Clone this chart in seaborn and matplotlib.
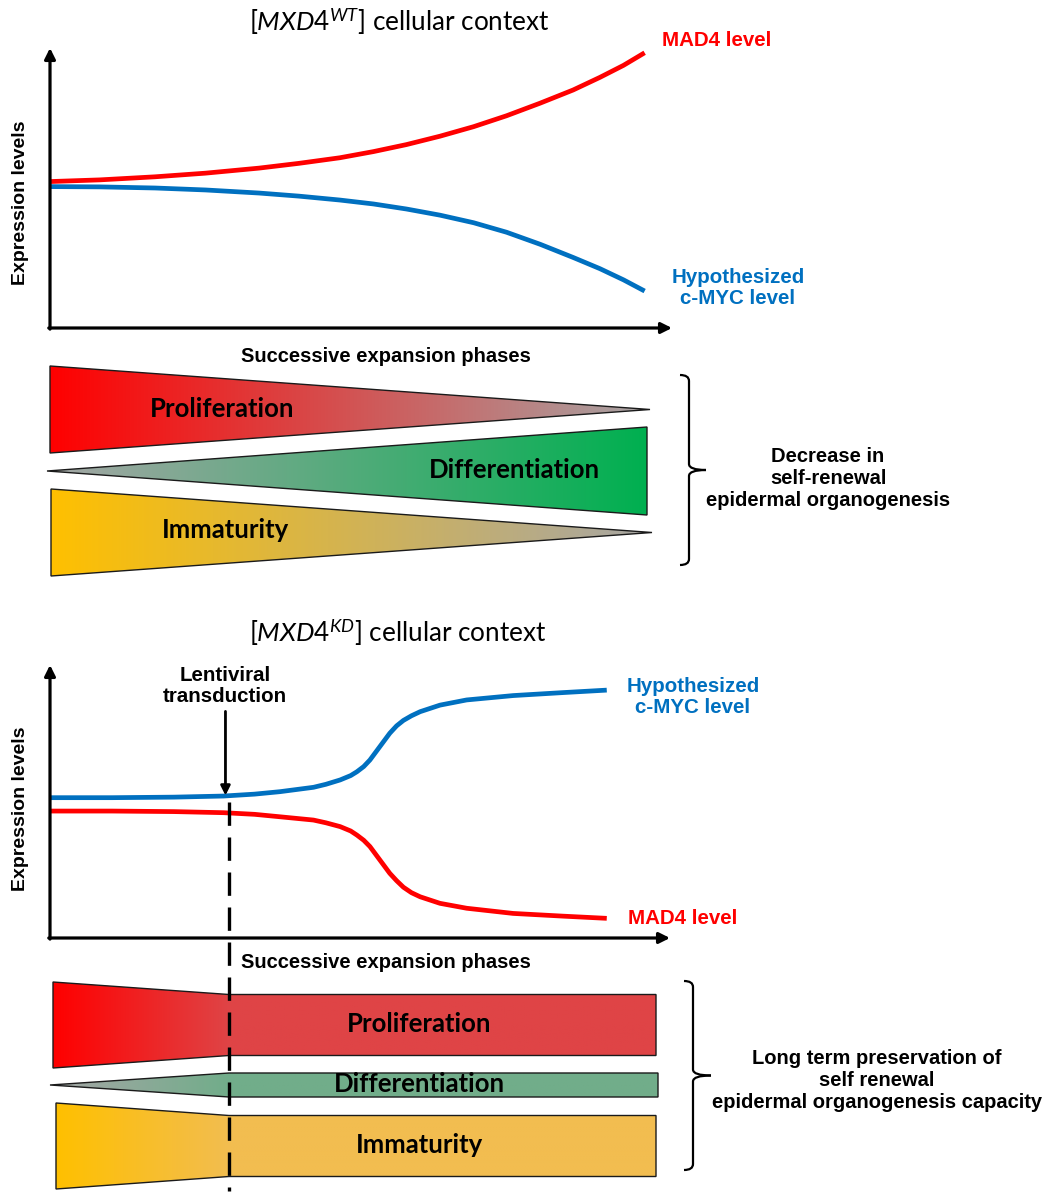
import numpy as np
import matplotlib.pyplot as plt
import seaborn as sns
from matplotlib.patches import Polygon, PathPatch
from matplotlib.path import Path
from matplotlib.colors import to_rgb

W, H = 1046, 1196

# ---- curve values (expression level, arbitrary units 0-10) ----
wt_phase = [0, 0.8, 1.69, 2.5, 3.36, 4.0, 4.66, 5.2, 5.73, 6.27, 6.81, 7.34, 7.88, 8.41, 8.84, 9.22, 9.56]
wt_mad4 = [5.23, 5.29, 5.40, 5.53, 5.71, 5.88, 6.08, 6.30, 6.55, 6.85, 7.19, 7.58, 8.03, 8.50, 8.95, 9.38, 9.83]
wt_myc = [5.05, 5.04, 5.00, 4.93, 4.82, 4.71, 4.57, 4.43, 4.25, 4.03, 3.76, 3.42, 2.99, 2.52, 2.12, 1.72, 1.32]

kd_phase = [0, 1, 2, 2.8, 3.3, 3.71, 4.25, 4.45, 4.68, 4.85, 4.95, 5.06, 5.16, 5.32, 5.48, 5.59,
            5.70, 5.83, 5.97, 6.29, 6.72, 7.47, 8.28, 8.98]
kd_myc = [5.14, 5.14, 5.16, 5.20, 5.27, 5.36, 5.52, 5.63, 5.79, 5.95, 6.09, 6.28, 6.52, 7.01, 7.50, 7.77,
          7.97, 8.14, 8.29, 8.53, 8.72, 8.88, 8.99, 9.08]
kd_mad4 = [4.65, 4.65, 4.63, 4.59, 4.53, 4.44, 4.32, 4.22, 4.08, 3.92, 3.77, 3.58, 3.35, 2.86, 2.37, 2.10,
           1.86, 1.66, 1.51, 1.27, 1.09, 0.90, 0.80, 0.72]
transduction_phase = 2.88

# ---- band thickness (px) for the schematic wedges ----
bands = ["Proliferation", "Differentiation", "Immaturity"]
wt_start = [87, 0, 87]
wt_end = [0, 88, 0]
kd_start = [86, 0, 86]
kd_after = [61, 24, 61]

wt_colors_start = ["#FF0000", "#A6A6A6", "#FFC000"]
wt_colors_end = ["#A6A6A6", "#00B050", "#A6A6A6"]
kd_colors_start = ["#FF0000", "#A6A6A6", "#FFC000"]
kd_colors_after = ["#DF4446", "#71AD8A", "#F2BD50"]

sns.set_theme(style="white")
calib = "Lato"
plt.rcParams["font.family"] = ["Liberation Sans", "DejaVu Sans"]
plt.rcParams["text.color"] = "black"
plt.rcParams["mathtext.fontset"] = "custom"
plt.rcParams["mathtext.rm"] = calib
plt.rcParams["mathtext.it"] = calib + ":italic"
plt.rcParams["lines.solid_capstyle"] = "butt"
plt.rcParams["lines.solid_joinstyle"] = "round"

fig = plt.figure(figsize=(W / 100, H / 100), dpi=100)
over = fig.add_axes([0, 0, 1, 1], zorder=0)
over.set_xlim(0, W)
over.set_ylim(H, 0)
over.axis("off")


def chart_axes(left, top, right, bottom):
    ax = fig.add_axes([left / W, 1 - bottom / H, (right - left) / W, (bottom - top) / H], zorder=2)
    ax.set_facecolor("none")
    for s in ax.spines.values():
        s.set_visible(False)
    arrow = dict(arrowstyle="-|>", lw=2.3, color="black", mutation_scale=16, shrinkA=0, shrinkB=0)
    ax.annotate("", xy=(0, 1), xytext=(0, -0.004), xycoords="axes fraction", arrowprops=arrow)
    ax.annotate("", xy=(1, 0), xytext=(-0.002, 0), xycoords="axes fraction", arrowprops=arrow)
    return ax


def finish(ax):
    ax.set_xlim(0, 10)
    ax.set_ylim(0, 10)
    ax.set_xticks([])
    ax.set_yticks([])
    ax.set_xlabel("")
    ax.set_ylabel("")


RED = "#FF0000"
BLUE = "#0070C0"

# ---- top chart ----
ax1 = chart_axes(50, 48, 672, 328)
sns.lineplot(x=wt_phase, y=wt_mad4, ax=ax1, color=RED, linewidth=3.4, legend=False)
sns.lineplot(x=wt_phase, y=wt_myc, ax=ax1, color=BLUE, linewidth=3.4, legend=False)
finish(ax1)

# ---- bottom chart ----
ax2 = chart_axes(50, 665, 670, 938)
sns.lineplot(x=kd_phase, y=kd_myc, ax=ax2, color=BLUE, linewidth=3.4, legend=False)
sns.lineplot(x=kd_phase, y=kd_mad4, ax=ax2, color=RED, linewidth=3.4, legend=False)
finish(ax2)
ax2.annotate("", xy=(transduction_phase - 0.05, 5.22), xytext=(transduction_phase - 0.05, 8.3),
             arrowprops=dict(arrowstyle="-|>", lw=2.0, color="black", mutation_scale=14,
                             shrinkA=0, shrinkB=0))
ax2.plot([transduction_phase, transduction_phase], [5.0, -9.25], color="black", lw=2.4,
         dashes=(7, 3.5), clip_on=False, zorder=5)

# ---- titles & labels ----
title_kw = dict(ha="center", va="center", fontsize=18.8, family=[calib, "DejaVu Sans"])
over.text(399, 22, r"[$\mathit{MXD4}^{\mathit{WT}}$] cellular context", **title_kw)
over.text(398, 633, r"[$\mathit{MXD4}^{\mathit{KD}}$] cellular context", **title_kw)

for yc in (203, 809):
    over.text(21, yc, "Expression levels", rotation=90, ha="center", va="center",
              fontsize=14, fontweight="bold")
for yc in (356, 963):
    over.text(386, yc, "Successive expansion phases", ha="center", va="center",
              fontsize=14.5, fontweight="bold")

lab_kw = dict(fontsize=14.8, fontweight="bold", va="center", linespacing=1.1)
over.text(662, 40, "MAD4 level", color=RED, ha="left", **lab_kw)
over.text(738, 288, "Hypothesized\nc-MYC level", color=BLUE, ha="center", **lab_kw)
over.text(693, 697, "Hypothesized\nc-MYC level", color=BLUE, ha="center", **lab_kw)
over.text(628, 919, "MAD4 level", color=RED, ha="left", **lab_kw)
over.text(225, 686, "Lentiviral\ntransduction", color="black", ha="center", **lab_kw)


# ---- wedges ----
def gradient_patch(verts, x0, x1, xg, c0, c1):
    poly = Polygon(verts, closed=True, facecolor="none", edgecolor="#1a1a1a", lw=1.0, zorder=3)
    over.add_patch(poly)
    xs = np.linspace(x0, x1, 400)
    t = np.clip((xs - x0) / (xg - x0), 0, 1)[:, None]
    a = np.array(to_rgb(c0))
    b = np.array(to_rgb(c1))
    img = (a * (1 - t) + b * t)[None, :, :]
    ys = [v[1] for v in verts]
    im = over.imshow(img, extent=(x0, x1, max(ys), min(ys)), aspect="auto",
                     interpolation="bilinear", zorder=2)
    im.set_clip_path(Polygon(verts, closed=True, transform=over.transData))


wt_centers = [409.5, 471, 532.5]
wt_left = [50, 47, 51]
wt_right = [650, 647, 652]
for i in range(3):
    cy, lx, rx = wt_centers[i], wt_left[i], wt_right[i]
    verts = [(lx, cy - wt_start[i] / 2), (rx, cy - wt_end[i] / 2),
             (rx, cy + wt_end[i] / 2), (lx, cy + wt_start[i] / 2)]
    gradient_patch(verts, lx, rx, rx, wt_colors_start[i], wt_colors_end[i])

band_font = dict(ha="center", va="center", fontsize=18.5, fontweight="bold",
                 family=[calib, "DejaVu Sans"], zorder=4)
over.text(222, 409, bands[0], **band_font)
over.text(514, 470, bands[1], **band_font)
over.text(226, 530, bands[2], **band_font)

kd_centers = [1025, 1085, 1146]
kd_left = [53, 50, 56]
kd_right = [656, 658, 656]
xd = 229
for i in range(3):
    cy, lx, rx = kd_centers[i], kd_left[i], kd_right[i]
    s, m = kd_start[i] / 2, kd_after[i] / 2
    verts = [(lx, cy - s), (xd, cy - m), (rx, cy - m), (rx, cy + m), (xd, cy + m), (lx, cy + s)]
    gradient_patch(verts, lx, rx, xd, kd_colors_start[i], kd_colors_after[i])
for i in range(3):
    over.text(419, kd_centers[i] - 1, bands[i], **band_font)


# ---- braces ----
def brace(x, y0, y1, hook, tick):
    ym = (y0 + y1) / 2
    r = 6
    codes = [Path.MOVETO, Path.CURVE3, Path.CURVE3, Path.LINETO, Path.CURVE3, Path.CURVE3]
    for verts in (
        [(x - hook, y0), (x, y0), (x, y0 + r), (x, ym - r), (x, ym), (x + tick, ym)],
        [(x + tick, ym), (x, ym), (x, ym + r), (x, y1 - r), (x, y1), (x - hook, y1)],
    ):
        over.add_patch(PathPatch(Path(verts, codes), fc="none", ec="black", lw=1.6))


brace(689, 375, 565, 9, 17)
brace(693, 981, 1170, 9, 18)

side_kw = dict(ha="center", va="center", fontsize=14.5, fontweight="bold", linespacing=1.2)
over.text(828, 478, "Decrease in\nself-renewal\nepidermal organogenesis", **side_kw)
over.text(877, 1081, "Long term preservation of\nself renewal\nepidermal organogenesis capacity", **side_kw)

fig.savefig("out.png", dpi=100, facecolor="white")
